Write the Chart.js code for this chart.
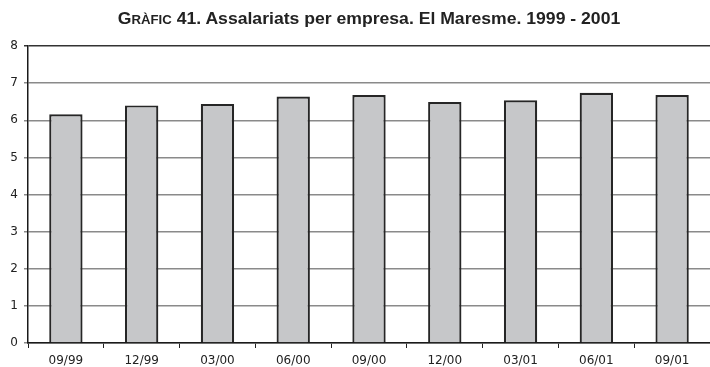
<!DOCTYPE html>
<html>
<head>
<meta charset="utf-8">
<script src="https://cdn.jsdelivr.net/npm/chart.js@4/dist/chart.umd.min.js"></script>
<style>
  html, body { margin: 0; padding: 0; background: #fff; }
  #wrap { position: relative; width: 710px; height: 367px; overflow: hidden; }
  #title {
    position: absolute; left: 28px; width: 682px; top: 9px;
    text-align: center; white-space: nowrap;
    font-family: "Liberation Sans", Arial, sans-serif; font-weight: bold;
    font-size: 16px; color: #222; line-height: 20px;
    transform: scaleX(1.1); transform-origin: 50% 50%;
  }
  #title .sc { font-size: 12px; }
  canvas { position: absolute; left: 0; top: 0; }
</style>
</head>
<body>
<div id="wrap">
  <canvas id="c" width="710" height="367"></canvas>
  <div id="title">G<span class="sc">RÀFIC</span> 41. Assalariats per empresa. El Maresme. 1999 - 2001</div>
</div>
<script>
// Quarterly periods and employees per company
const periods = ['09/99', '12/99', '03/00', '06/00', '09/00', '12/00', '03/01', '06/01', '09/01'];
const employeesPerCompany = [6.16, 6.40, 6.44, 6.64, 6.68, 6.49, 6.54, 6.74, 6.68];
const yTicks = [0, 1, 2, 3, 4, 5, 6, 7, 8];

const tickFont = { family: '"DejaVu Sans", sans-serif', size: 12 };

new Chart(document.getElementById('c'), {
  type: 'bar',
  data: {
    labels: periods,
    datasets: [{
      data: employeesPerCompany,
      backgroundColor: '#c6c7c9',
      borderColor: '#262626',
      borderWidth: 2.2,
      borderSkipped: 'start',
      categoryPercentage: 1,
      barPercentage: 0.44
    }]
  },
  options: {
    responsive: false,
    devicePixelRatio: 1,
    animation: false,
    layout: { padding: { top: 46, right: 0, left: 0, bottom: 0 } },
    plugins: { legend: { display: false }, tooltip: { enabled: false }, title: { display: false } },
    scales: {
      x: {
        grid: { drawOnChartArea: false, drawTicks: true, tickLength: 5, color: '#222', lineWidth: 1 },
        border: { display: true, color: '#1a1a1a', width: 1.5 },
        ticks: { font: tickFont, color: '#222', padding: 6, maxRotation: 0 },
        afterFit: s => { s.height = 24; }
      },
      y: {
        min: yTicks[0], max: yTicks[yTicks.length - 1],
        afterBuildTicks: s => { s.ticks = yTicks.map(v => ({ value: v })); },
        grid: {
          tickLength: 4,
          color: c => (c.tick && c.tick.value === 8 ? '#333' : '#8a8a8a'),
          lineWidth: 1.5
        },
        border: { display: true, color: '#1a1a1a', width: 1.5 },
        ticks: { font: tickFont, color: '#222', padding: 6 },
        afterFit: s => { s.width = 28; }
      }
    }
  }
});
</script>
</body>
</html>
